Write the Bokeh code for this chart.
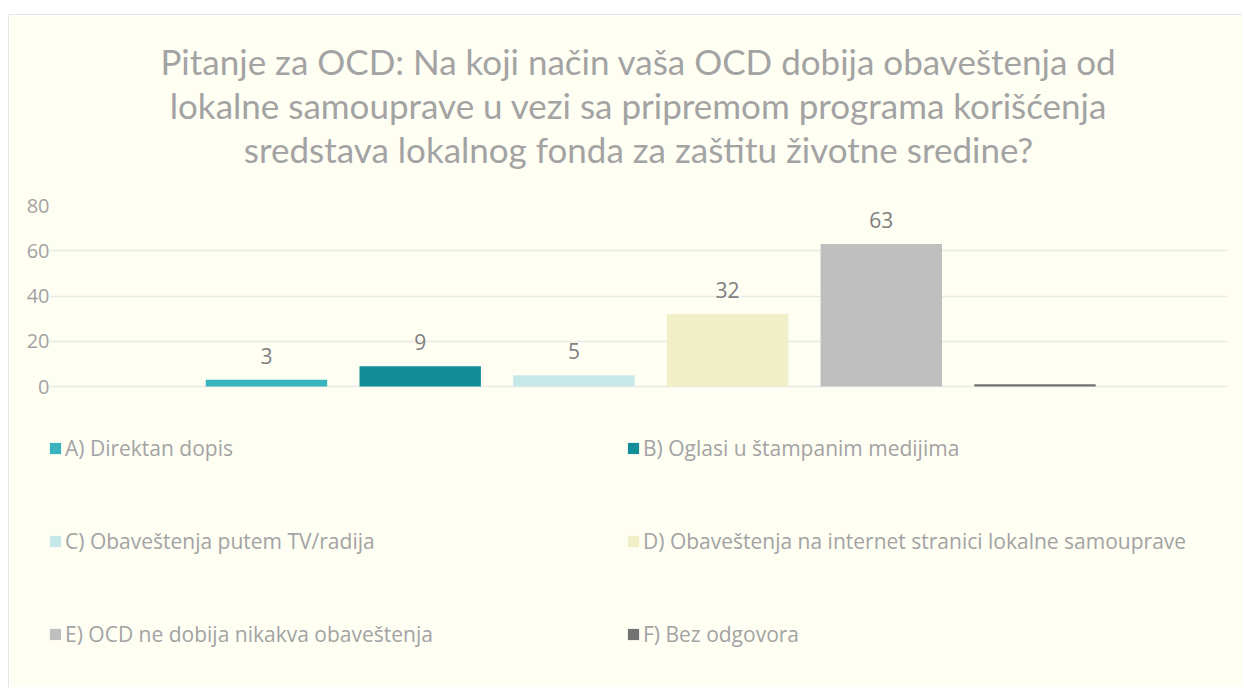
from bokeh.plotting import figure
from bokeh.models import (ColumnDataSource, Range1d, Legend, LegendItem, LabelSet,
                          Title, FixedTicker)
from bokeh.core.properties import value
from bokeh.embed import file_html
from bokeh.resources import INLINE

categories = ["A) Direktan dopis",
              "B) Oglasi u štampanim medijima",
              "C) Obaveštenja putem TV/radija",
              "D) Obaveštenja na internet stranici lokalne samouprave",
              "E) OCD ne dobija nikakva obaveštenja",
              "F) Bez odgovora"]
values = [3, 9, 5, 32, 63, 1]
value_labels = ["3", "9", "5", "32", "63", ""]
colors = ["#38B4BE", "#138D97", "#C6E8E8", "#F1EFC5", "#BFBFBF", "#737373"]
title_lines = ["Pitanje za OCD: Na koji način vaša OCD dobija obaveštenja od",
               "lokalne samouprave u vezi sa pripremom programa korišćenja",
               "sredstava lokalnog fonda za zaštitu životne sredine?"]
y_ticks = [0, 20, 40, 60, 80]

BG = "#FEFEF3"
TXT = "#A3A3A3"
FONT = "Open Sans"
TFONT = "Lato"

# geometry (pixels, relative to the chart box)
W, H = 1234, 673
FRAME_TOP, FRAME_LEFT, FRAME_RIGHT = 190, 40, 1218
ZERO_Y = 371                    # zero line, from box top
PX_PER_UNIT = 181 / 80          # vertical scale
PX_PER_BAR = 153.7
BAR0_X = 257

src = ColumnDataSource(dict(x=list(range(len(values))), top=values,
                            lab=value_labels, color=colors))

x_start = -(BAR0_X - FRAME_LEFT) / PX_PER_BAR
x_end = x_start + (FRAME_RIGHT - FRAME_LEFT) / PX_PER_BAR
y_start = -(H - ZERO_Y) / PX_PER_UNIT

p = figure(width=W, height=H, x_range=Range1d(x_start, x_end), y_range=Range1d(y_start, 80),
           output_backend="svg", toolbar_location=None,
           background_fill_color=BG, border_fill_color=BG, outline_line_color=None,
           min_border_left=FRAME_LEFT, min_border_right=W - FRAME_RIGHT,
           min_border_top=FRAME_TOP, min_border_bottom=0,
           styles={"margin-top": "14px", "margin-left": "8px",
                   "border-top": "1px solid #E6E6E6", "border-left": "1px solid #E6E6E6"})

r = p.vbar(x="x", top="top", width=0.79, bottom=0, color="color", source=src, line_color=None)

p.add_layout(LabelSet(x="x", y="top", text="lab", source=src, text_align="center",
                      text_baseline="middle", y_offset=24, text_font_size="21px",
                      text_color="#7F7F7F", text_font=value(FONT)))

# spacer between plot frame and the title block
p.add_layout(Title(text=" ", text_font_size="1px", standoff=33), "above")
for line in reversed(title_lines):
    p.add_layout(Title(text=line, align="center", text_font_size="35px", text_color=TXT,
                       text_font=TFONT, text_font_style="normal", standoff=0), "above")

p.xaxis.visible = False
p.xgrid.visible = False
p.yaxis.ticker = FixedTicker(ticks=y_ticks)
p.yaxis.axis_line_color = None
p.yaxis.major_tick_line_color = None
p.yaxis.minor_tick_line_color = None
p.yaxis.major_label_standoff = -6
p.yaxis.major_label_text_font_size = "20px"
p.yaxis.major_label_text_color = TXT
p.yaxis.major_label_text_font = FONT
p.ygrid.grid_line_color = "#E9E9E6"
p.ygrid.grid_line_width = 1.5
p.ygrid.bounds = (-1.25, x_end - 0.003)

def make_legend(idx, vx):
    items = [LegendItem(label=categories[i], renderers=[r], index=i) for i in idx]
    return Legend(items=items, location=(vx, 40), orientation="vertical",
                  glyph_width=14, glyph_height=14, label_standoff=3, spacing=64,
                  label_height=29,
                  padding=0, margin=0, border_line_color=None, background_fill_alpha=0,
                  label_text_font_size="21px", label_text_color=TXT, label_text_font=FONT)

p.add_layout(make_legend([0, 2, 4], -1))
p.add_layout(make_legend([1, 3, 5], 577))

open("out.html", "w").write(file_html(p, INLINE))
